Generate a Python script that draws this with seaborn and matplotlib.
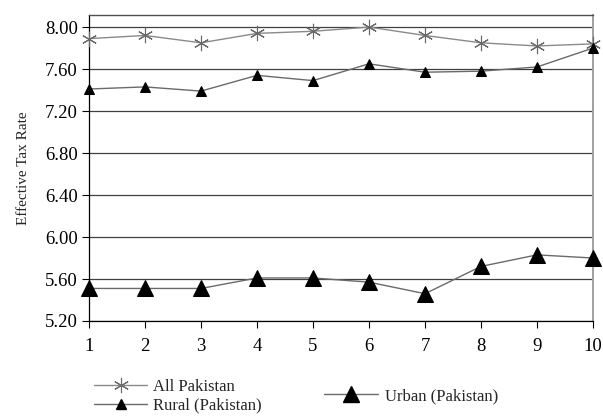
import pandas as pd
import matplotlib.pyplot as plt
import seaborn as sns
from matplotlib.lines import Line2D

# data
deciles = [1, 2, 3, 4, 5, 6, 7, 8, 9, 10]
all_pakistan = [7.89, 7.92, 7.85, 7.94, 7.96, 8.00, 7.92, 7.85, 7.82, 7.84]
rural = [7.41, 7.43, 7.39, 7.54, 7.49, 7.65, 7.57, 7.58, 7.62, 7.80]
urban = [5.51, 5.51, 5.51, 5.61, 5.61, 5.57, 5.46, 5.72, 5.83, 5.80]
yticks = [5.20, 5.60, 6.00, 6.40, 6.80, 7.20, 7.60, 8.00]

sns.set_theme(style="white")
plt.rcParams['font.family'] = ['Liberation Serif', 'DejaVu Serif']

fig = plt.figure(figsize=(6.03, 4.19), dpi=100)
ax = fig.add_axes([0.1476, 0.2339, 0.8358, 0.7303])

df = pd.DataFrame({'x': deciles, 'all': all_pakistan, 'rural': rural, 'urban': urban})

star = (6, 2, 0)
sns.lineplot(data=df, x='x', y='all', ax=ax, color='#8a8a8a', lw=1,
             marker=star, ms=11, mec='#6a6a6a', mew=0.8, clip_on=False, zorder=3)
sns.lineplot(data=df, x='x', y='rural', ax=ax, color='#6a6a6a', lw=1,
             marker='^', ms=7, mfc='black', mec='black', clip_on=False, zorder=3)
sns.lineplot(data=df, x='x', y='urban', ax=ax, color='#6a6a6a', lw=1,
             marker='^', ms=11, mfc='black', mec='black', clip_on=False, zorder=3)

ax.set_xlim(1, 10)
ax.set_ylim(5.2, 8.115)
ax.set_xticks(deciles)
ax.set_yticks(yticks)
ax.set_yticklabels([f'{v:.2f}' for v in yticks])
ax.yaxis.grid(True, color='#404040', lw=0.9)
ax.set_axisbelow(True)
ax.set_xlabel('')
ax.set_ylabel('Effective Tax Rate', fontsize=11, labelpad=11)
ax.tick_params(axis='both', labelsize=13.5, colors='black', direction='out',
               length=5, width=0.8, bottom=True, left=True)
ax.tick_params(axis='x', pad=7)
ax.tick_params(axis='y', pad=3)

for side in ['left', 'bottom']:
    ax.spines[side].set_color('black')
    ax.spines[side].set_linewidth(0.9)
ax.spines['top'].set_color('#505050')
ax.spines['top'].set_linewidth(1.0)
ax.spines['right'].set_color('#a0a0a0')
ax.spines['right'].set_linewidth(1.4)

h_all = Line2D([], [], color='#8a8a8a', lw=1, marker=star, ms=11, mec='#6a6a6a', mew=0.8)
h_rural = Line2D([], [], color='#6a6a6a', lw=1, marker='^', ms=7, mfc='black', mec='black')
h_urban = Line2D([], [], color='#6a6a6a', lw=1, marker='^', ms=11, mfc='black', mec='black')

fig.legend([h_all, h_rural], ['All Pakistan', 'Rural (Pakistan)'],
           loc='center left', bbox_to_anchor=(0.142, 0.054), frameon=False,
           fontsize=12, handlelength=3.2, handletextpad=0.35, labelspacing=0.15,
           borderpad=0)
fig.legend([h_urban], ['Urban (Pakistan)'],
           loc='center left', bbox_to_anchor=(0.524, 0.055), frameon=False,
           fontsize=12, handlelength=3.2, handletextpad=0.45, borderpad=0)

plt.savefig('out.png', dpi=100)
